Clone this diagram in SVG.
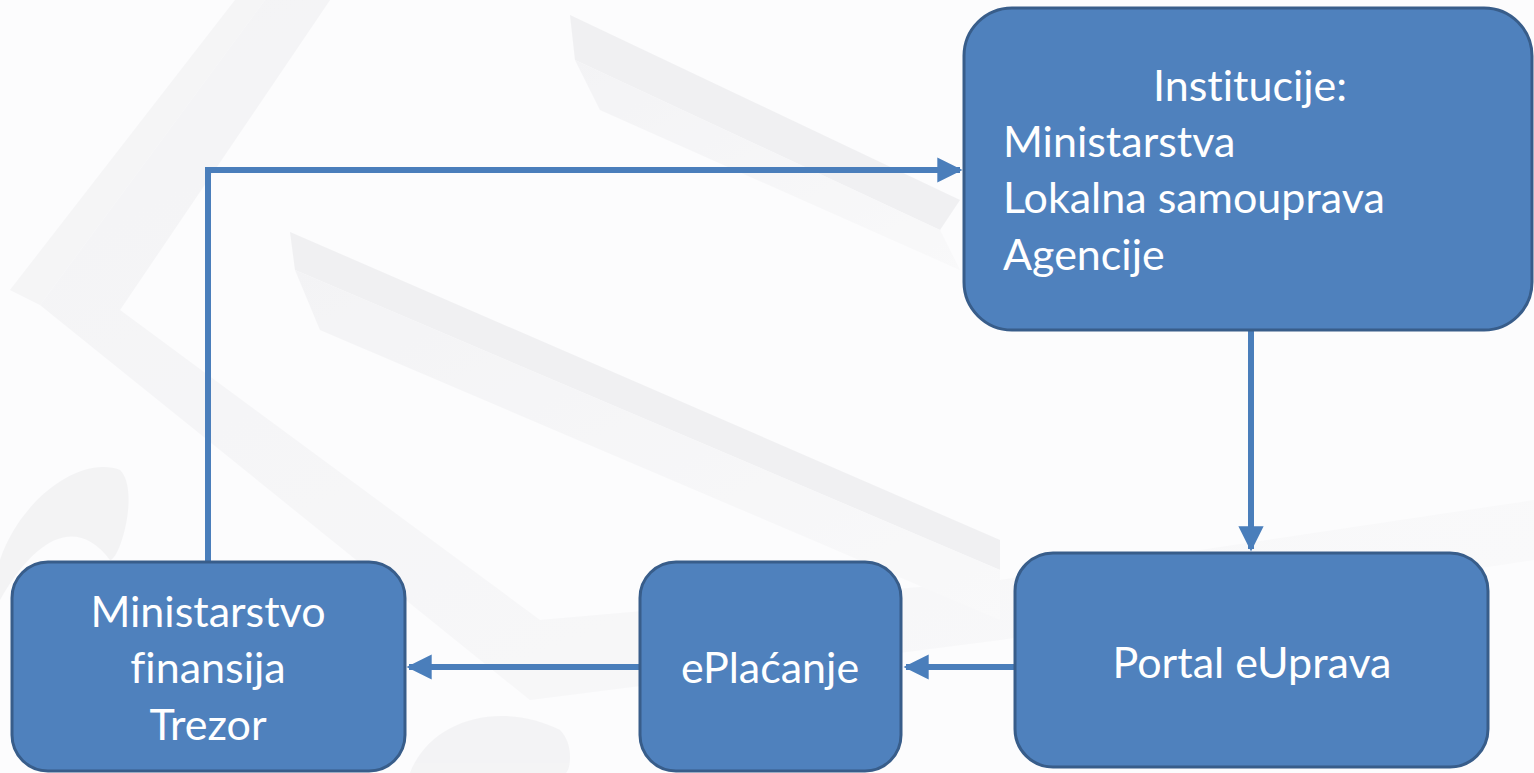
<svg xmlns="http://www.w3.org/2000/svg" width="1534" height="773" viewBox="0 0 1534 773">
  <defs>
    <style>
      .node { fill: #4f81bd; stroke: #385d8a; stroke-width: 3; }
      .lbl { fill: #ffffff; font-family: Lato, "Open Sans", "Liberation Sans", sans-serif; font-size: 43px; font-variant-ligatures: none; }
      .mid { text-anchor: middle; }
      .conn { fill: none; stroke: #4a7ebb; stroke-width: 6; }
      .bg1 { fill: #efeff1; }
      .bg2 { fill: #e6e6e9; }
    </style>
    <marker id="arr" viewBox="0 0 10 10" refX="9" refY="5" markerWidth="4.2" markerHeight="4.2" orient="auto" markerUnits="strokeWidth">
      <path d="M0,0 L10,5 L0,10 z" fill="#4a7ebb"/>
    </marker>
    <linearGradient id="fade" x1="0" y1="0" x2="1" y2="1">
      <stop offset="0" stop-color="#ececef"/>
      <stop offset="1" stop-color="#f7f7f8"/>
    </linearGradient>
  </defs>

  <rect width="1534" height="773" fill="#fcfcfd"/>

  <g id="background" opacity="0.5">
    <polygon class="bg1" points="10,290 235,0 265,0 40,305"/>
    <polygon fill="url(#fade)" points="40,305 265,0 330,0 120,310 540,620 1000,580 1534,500 1534,560 1000,640 530,700"/>
    <polygon class="bg2" points="290,232 295,270 1000,570 1000,540"/>
    <polygon fill="url(#fade)" points="295,270 1000,570 1000,620 320,330"/>
    <polygon class="bg2" points="570,15 575,60 940,230 960,200"/>
    <polygon fill="url(#fade)" points="575,60 940,230 960,270 600,110"/>
    <path fill="#ebebed" d="M0,560 C20,500 80,455 120,470 C140,490 120,560 110,560 C80,520 40,530 0,600 z"/>
    <path fill="#ececee" d="M410,773 C430,720 500,700 560,730 C575,745 570,773 565,773 z"/>
  </g>

  <g id="connectors">
    <path class="conn" d="M1251,331 V549" marker-end="url(#arr)"/>
    <path class="conn" d="M1014,667 H906" marker-end="url(#arr)"/>
    <path class="conn" d="M639,667 H409" marker-end="url(#arr)"/>
    <path class="conn" d="M208,561 V170 H960" marker-end="url(#arr)"/>
  </g>

  <g id="institucije">
    <rect class="node" x="964" y="8" width="568" height="322" rx="48"/>
    <text class="lbl mid" x="1250" y="101">Institucije:</text>
    <text class="lbl" x="1003" y="157">Ministarstva</text>
    <text class="lbl" x="1003" y="213">Lokalna samouprava</text>
    <text class="lbl" x="1003" y="270">Agencije</text>
  </g>

  <g id="portal">
    <rect class="node" x="1015" y="553" width="473" height="214" rx="38"/>
    <text class="lbl mid" x="1252" y="678">Portal eUprava</text>
  </g>

  <g id="eplacanje">
    <rect class="node" x="640" y="562" width="261" height="209" rx="36"/>
    <text class="lbl mid" x="770" y="683">ePlaćanje</text>
  </g>

  <g id="ministarstvo">
    <rect class="node" x="12" y="562" width="393" height="209" rx="36"/>
    <text class="lbl mid" x="208" y="627">Ministarstvo</text>
    <text class="lbl mid" x="208" y="683">finansija</text>
    <text class="lbl mid" x="208" y="740">Trezor</text>
  </g>
</svg>
